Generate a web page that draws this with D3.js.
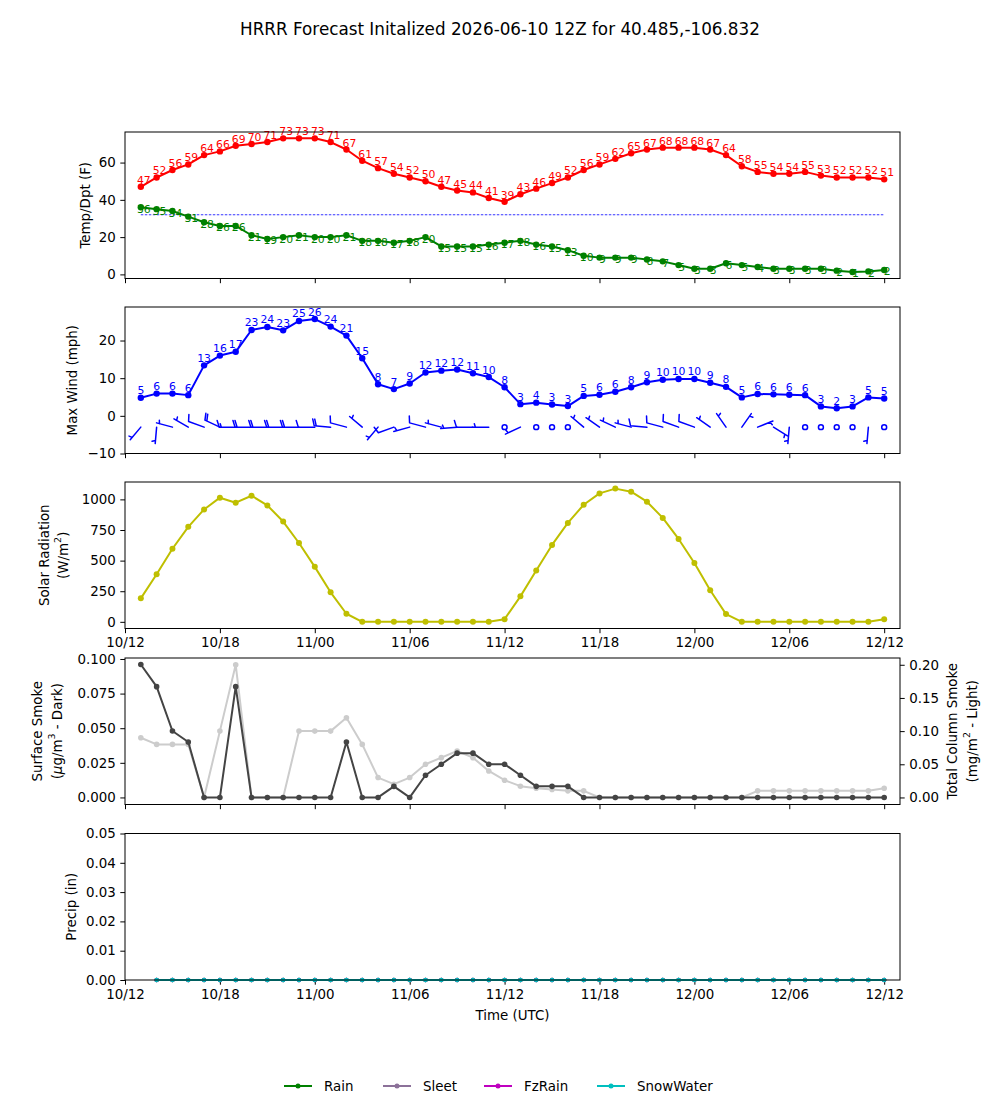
<!DOCTYPE html>
<html><head><meta charset="utf-8">
<script src="https://cdn.jsdelivr.net/npm/d3@7"></script>
<style>body{margin:0;background:#fff} text{font-family:"DejaVu Sans",sans-serif}</style>
</head><body><svg id="c" width="1000" height="1100" xmlns="http://www.w3.org/2000/svg"></svg>
<script>
// ---------------- data ----------------
const initTime = Date.UTC(2026, 5, 10, 12);
const fhours = d3.range(1, 49);           // forecast hours 1..48
const precipHours = d3.range(2, 49);      // precip series start at hour 2
const temp = [47,52,56,59,64,66,69,70,71,73,73,73,71,67,61,57,54,52,50,47,45,44,41,39,
              43,46,49,52,56,59,62,65,67,68,68,68,67,64,58,55,54,54,55,53,52,52,52,51];
const dewp = [36,35,34,31,28,26,26,21,19,20,21,20,20,21,18,18,17,18,20,15,15,15,16,17,
              18,16,15,13,10,9,9,9,8,7,5,3,3,6,5,4,3,3,3,3,2,1.3,1.6,2.4];
const freezeLine = 32;
const windMax = [4.8,5.9,5.9,5.5,13.4,16,17,22.8,23.6,22.7,25.2,25.7,23.7,21.3,15.3,8.4,7.1,8.6,11.5,12,12.3,11.3,10.3,7.6,
                 3.1,3.5,3,2.6,5.3,5.6,6.4,7.6,8.9,9.6,9.8,9.8,8.8,7.7,4.9,5.8,5.7,5.6,5.5,2.5,2,2.5,4.9,4.6];
const barbDir = [220,185,285,300,290,295,270,270,270,270,270,270,275,285,310,220,250,255,285,285,265,270,270,0,
                 245,0,0,0,310,305,295,285,275,285,290,290,305,325,35,68,122,185,0,0,0,0,185,0];
const barbSpd = [5,5,5,5,10,20,15,20,20,20,20,10,20,10,5,5,10,5,10,5,5,10,5,0,
                 5,0,0,0,5,5,5,5,10,10,10,10,5,5,5,5,5,5,0,0,0,0,5,0];
const barbLevel = -3;
const solar = [192,389,597,776,918,1014,973,1030,951,819,644,449,241,66,0,0,0,0,0,0,0,0,0,22,
               208,419,628,808,956,1049,1088,1063,981,849,677,480,258,63,0,0,0,0,0,0,0,0,0,22];
const smokeSfc = [0.096,0.080,0.048,0.040,0,0,0.080,0,0,0,0,0,0,0.040,0,0,0.008,0,0.016,0.024,0.032,0.032,0.024,0.024,
                  0.016,0.008,0.008,0.008,0,0,0,0,0,0,0,0,0,0,0,0,0,0,0,0,0,0,0,0];
const smokeCol = [0.090,0.080,0.080,0.080,0,0.100,0.200,0,0,0,0.100,0.100,0.100,0.120,0.080,0.030,0.020,0.030,0.050,0.060,0.070,0.060,0.040,0.026,
                  0.017,0.014,0.012,0.010,0.010,0,0,0,0,0,0,0,0,0,0,0.010,0.010,0.010,0.010,0.010,0.010,0.010,0.010,0.014];
const rain      = [0,0,0,0,0,0,0,0,0,0,0,0,0,0,0,0,0,0,0,0,0,0,0,0,0,0,0,0,0,0,0,0,0,0,0,0,0,0,0,0,0,0,0,0,0,0,0];
const sleet     = [0,0,0,0,0,0,0,0,0,0,0,0,0,0,0,0,0,0,0,0,0,0,0,0,0,0,0,0,0,0,0,0,0,0,0,0,0,0,0,0,0,0,0,0,0,0,0];
const fzrain    = [0,0,0,0,0,0,0,0,0,0,0,0,0,0,0,0,0,0,0,0,0,0,0,0,0,0,0,0,0,0,0,0,0,0,0,0,0,0,0,0,0,0,0,0,0,0,0];
const snowwater = [0,0,0,0,0,0,0,0,0,0,0,0,0,0,0,0,0,0,0,0,0,0,0,0,0,0,0,0,0,0,0,0,0,0,0,0,0,0,0,0,0,0,0,0,0,0,0];
const precipNames = ["Rain","Sleet","FzRain","SnowWater"];
const precipColors = ["#008000","#8c7199","#bf00bf","#00bfbf"];
const tempTicks = [0,20,40,60];
const windTicks = [-10,0,10,20];
const solarTicks = [0,250,500,750,1000];
const smokeTicks = [0,0.025,0.05,0.075,0.1];
const colTicks = [0,0.05,0.1,0.15,0.2];
const precipTicks = [0,0.01,0.02,0.03,0.04,0.05];
const title = "HRRR Forecast Initalized 2026-06-10 12Z for 40.485,-106.832";

// ---------------- layout ----------------
const svg = d3.select("#c");
const L = 125, R = 900, PH = 146.5;
const tops = [132, 307, 482, 658, 833.5];
const hour = 3600e3;
const times = fhours.map(h => new Date(initTime + h*hour));
const ptimes = precipHours.map(h => new Date(initTime + h*hour));
const x = d3.scaleUtc().domain([new Date(initTime), new Date(initTime + 49*hour)]).range([L, R]);
const xTickVals = d3.range(0, 49, 6).map(h => new Date(initTime + h*hour));
const fmt = d3.utcFormat("%d/%H");
const FS = "13.4px";

svg.append("text").attr("x", 500).attr("y", 35).attr("text-anchor","middle")
  .style("font-size","16.8px").text(title);

function panel(i, domain, ticks, tickFmt, showX) {
  const top = tops[i], bot = top + PH;
  const y = d3.scaleLinear().domain(domain).range([bot, top]);
  const g = svg.append("g");
  const ax = g.append("g").attr("transform", `translate(0,${bot})`)
    .call(d3.axisBottom(x).tickValues(xTickVals).tickSizeOuter(0).tickSize(4.7).tickPadding(4.5)
      .tickFormat(showX ? fmt : () => ""));
  const ay = g.append("g").attr("transform", `translate(${L},0)`)
    .call(d3.axisLeft(y).tickValues(ticks).tickFormat(tickFmt).tickSizeOuter(0).tickSize(4.7).tickPadding(4.5));
  [ax, ay].forEach(a => { a.select(".domain").remove(); a.selectAll("text").style("font-size", FS).attr("fill","#000").style("font-family",'"DejaVu Sans"'); a.selectAll("line").attr("stroke","#000"); });
  const plot = g.append("g");
  g.append("rect").attr("x", L).attr("y", top).attr("width", R-L).attr("height", PH)
    .attr("fill","none").attr("stroke","#000").attr("stroke-width",1);
  return {g: plot, y, top, bot, root: g};
}

function series(p, xs, vals, yS, color, lw, r) {
  const line = d3.line().x((d,i) => x(xs[i])).y(d => yS(d));
  p.append("path").datum(vals).attr("d", line).attr("fill","none").attr("stroke", color)
    .attr("stroke-width", lw).attr("stroke-linejoin","round");
  p.selectAll(null).data(vals).enter().append("circle")
    .attr("cx", (d,i) => x(xs[i])).attr("cy", d => yS(d)).attr("r", r).attr("fill", color);
}

function ylabel(lines, xs, cy) {
  lines.forEach((ln, k) => {
    const t = svg.append("text").attr("transform", `translate(${xs[k]},${cy}) rotate(-90)`)
      .attr("text-anchor","middle").attr("dominant-baseline","central").style("font-size", FS);
    ln.forEach(part => {
      const ts = t.append("tspan").text(part.t);
      if (part.sup) ts.attr("baseline-shift","super").style("font-size","9.5px");
      if (part.it) ts.style("font-style","italic");
    });
  });
}

// ---------- Panel 1: Temp / Dewpoint ----------
{
  const p = panel(0, [-2.2, 76.4], tempTicks, d3.format("d"), false);
  p.g.append("line").attr("x1", x(times[0])).attr("x2", x(times[times.length-1]))
    .attr("y1", p.y(freezeLine)).attr("y2", p.y(freezeLine))
    .attr("stroke","#0000ff").attr("stroke-width",0.8).attr("stroke-dasharray","2.5,1.5");
  series(p.g, times, temp, p.y, "#ff0000", 2, 3.2);
  series(p.g, times, dewp, p.y, "#008000", 2, 3.2);
  p.g.selectAll(null).data(temp).enter().append("text")
    .attr("x",(d,i)=>x(times[i])+3).attr("y", d=>p.y(d)-3).attr("text-anchor","middle")
    .style("font-size","10.8px").attr("fill","#ff0000").text(d=>Math.round(d));
  p.g.selectAll(null).data(dewp).enter().append("text")
    .attr("x",(d,i)=>x(times[i])+3).attr("y", d=>p.y(d)+5.5).attr("text-anchor","middle")
    .style("font-size","10.8px").attr("fill","#008000").text(d=>Math.round(d));
  ylabel([[{t:"Temp/Dpt (F)"}]], [85], (p.top+p.bot)/2);
}

// ---------- Panel 2: Wind ----------
{
  const p = panel(1, [-10, 28.9], windTicks, d3.format("d"), false);
  series(p.g, times, windMax, p.y, "#0000ff", 2, 3.2);
  p.g.selectAll(null).data(windMax).enter().append("text")
    .attr("x",(d,i)=>x(times[i])).attr("y", d=>p.y(d)-3.5).attr("text-anchor","middle")
    .style("font-size","10.8px").attr("fill","#0000ff").text(d=>Math.round(d));
  const BL = 16.5, H = 0.4*BL, W = 0.25*BL, SP = 0.125*BL;
  const by = p.y(barbLevel);
  barbDir.forEach((dir, i) => {
    const x0 = x(times[i]), spd = barbSpd[i];
    const bg = p.g.append("g").attr("stroke","#0000ff").attr("stroke-width",1.5).attr("fill","none").attr("stroke-linecap","round");
    if (spd < 2.5) { bg.append("circle").attr("cx", x0).attr("cy", by).attr("r", 0.15*BL); return; }
    const th = dir*Math.PI/180;
    const d = [Math.sin(th), -Math.cos(th)];
    const f = [-d[1], d[0]];
    const P = o => [x0 + d[0]*o, by + d[1]*o];
    let path = `M${x0},${by}L${P(BL)[0]},${P(BL)[1]}`;
    let n10 = Math.floor(spd/10), half = (spd % 10) >= 5;
    let off = BL;
    for (let k = 0; k < n10; k++) {
      const a = P(off), b = [a[0] + f[0]*H + d[0]*W/2, a[1] + f[1]*H + d[1]*W/2];
      path += `M${a[0]},${a[1]}L${b[0]},${b[1]}`;
      off -= SP;
    }
    if (half) {
      if (off === BL) off -= 1.5*SP;
      const a = P(off), b = [a[0] + f[0]*H/2 + d[0]*W/4, a[1] + f[1]*H/2 + d[1]*W/4];
      path += `M${a[0]},${a[1]}L${b[0]},${b[1]}`;
    }
    bg.append("path").attr("d", path);
  });
  ylabel([[{t:"Max Wind (mph)"}]], [72], (p.top+p.bot)/2);
}

// ---------- Panel 3: Solar ----------
{
  const p = panel(2, [-54.4, 1142], solarTicks, d3.format("d"), true);
  series(p.g, times, solar, p.y, "#bfbf00", 2, 3);
  ylabel([[{t:"Solar Radiation"}],[{t:"(W/m"},{t:"2",sup:true},{t:")"}]], [44, 63], (p.top+p.bot)/2);
}

// ---------- Panel 4: Smoke ----------
{
  const p = panel(3, [-0.0051, 0.1007], smokeTicks, d3.format(".3f"), false);
  const y2 = d3.scaleLinear().domain([-0.0106, 0.2102]).range([p.bot, p.top]);
  const ar = p.root.append("g").attr("transform", `translate(${R},0)`)
    .call(d3.axisRight(y2).tickValues(colTicks).tickFormat(d3.format(".2f")).tickSizeOuter(0).tickSize(4.7).tickPadding(4.5));
  ar.select(".domain").remove();
  ar.selectAll("text").style("font-size", FS).attr("fill","#000");
  ar.selectAll("line").attr("stroke","#000");
  series(p.g, times, smokeCol, y2, "#cccccc", 2, 2.8);
  series(p.g, times, smokeSfc, p.y, "#444444", 2, 2.8);
  ylabel([[{t:"Surface Smoke"}],[{t:"("},{t:"μ",it:true},{t:"g/m"},{t:"3",sup:true},{t:" - Dark)"}]], [37, 57], (p.top+p.bot)/2);
  ylabel([[{t:"Total Column Smoke"}],[{t:"(mg/m"},{t:"2",sup:true},{t:" - Light)"}]], [952, 972], (p.top+p.bot)/2);
}

// ---------- Panel 5: Precip ----------
{
  const p = panel(4, [0, 0.05], precipTicks, d3.format(".2f"), true);
  [rain, sleet, fzrain, snowwater].forEach((s, k) => series(p.g, ptimes, s, p.y, precipColors[k], 2, 2.2));
  ylabel([[{t:"Precip (in)"}]], [71], (p.top+p.bot)/2);
  svg.append("text").attr("x", (L+R)/2).attr("y", 1020).attr("text-anchor","middle").style("font-size", FS).text("Time (UTC)");
}

// ---------- Legend ----------
{
  const lx = [284, 383, 484, 597];
  const ly = 1086;
  precipNames.forEach((n, k) => {
    const g = svg.append("g");
    g.append("line").attr("x1", lx[k]).attr("x2", lx[k]+28).attr("y1", ly).attr("y2", ly)
      .attr("stroke", precipColors[k]).attr("stroke-width", 2);
    g.append("circle").attr("cx", lx[k]+14).attr("cy", ly).attr("r", 2.5).attr("fill", precipColors[k]);
    g.append("text").attr("x", lx[k]+40).attr("y", ly).attr("dominant-baseline","central")
      .style("font-size", FS).text(n);
  });
}
</script></body></html>
